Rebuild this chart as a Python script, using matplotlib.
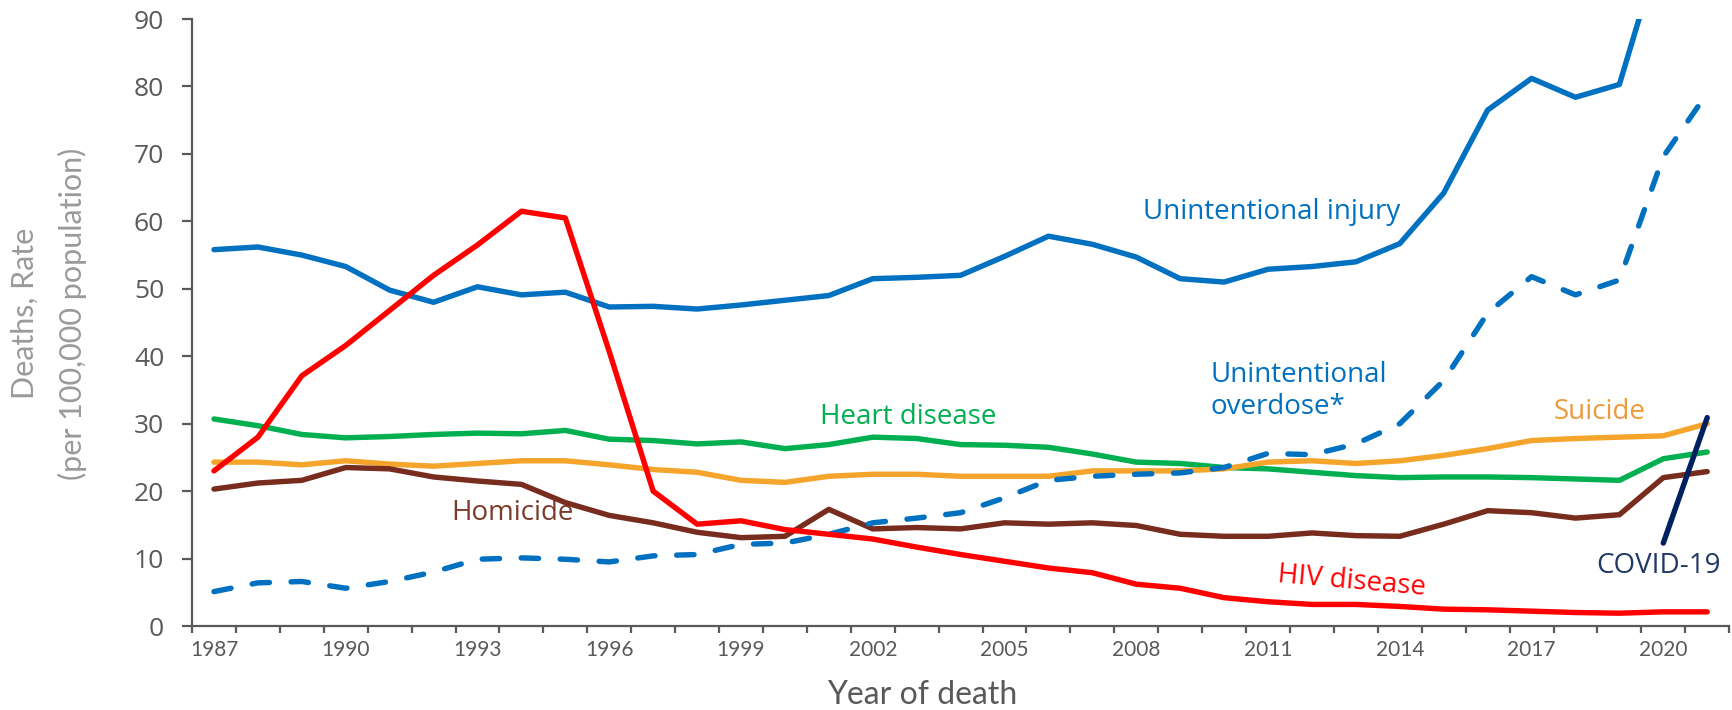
import matplotlib.pyplot as plt
import numpy as np

# data (deaths per 100,000)
years = np.arange(1987, 2022)

injury = [55.8, 56.2, 55.0, 53.3, 49.8, 48.0, 50.3, 49.1, 49.5, 47.3, 47.4, 47.0,
          47.6, 48.3, 49.0, 51.5, 51.7, 52.0, 54.8, 57.8, 56.6, 54.7, 51.5, 51.0,
          52.9, 53.3, 54.0, 56.7, 64.2, 76.5, 81.2, 78.4, 80.3, 102.0, 112.0]
overdose = [5.1, 6.4, 6.6, 5.6, 6.6, 8.0, 9.9, 10.1, 9.9, 9.5, 10.4, 10.6,
            12.1, 12.3, 13.6, 15.3, 16.0, 16.8, 19.0, 21.6, 22.2, 22.5, 22.7, 23.5,
            25.6, 25.4, 27.0, 30.0, 36.4, 46.4, 51.8, 49.1, 51.3, 69.6, 79.0]
heart = [30.7, 29.7, 28.4, 27.9, 28.1, 28.4, 28.6, 28.5, 29.0, 27.7, 27.5, 27.0,
         27.3, 26.3, 26.9, 28.0, 27.8, 26.9, 26.8, 26.5, 25.5, 24.3, 24.1, 23.5,
         23.3, 22.8, 22.3, 22.0, 22.1, 22.1, 22.0, 21.8, 21.6, 24.8, 25.8]
suicide = [24.3, 24.3, 23.9, 24.5, 24.0, 23.7, 24.1, 24.5, 24.5, 23.9, 23.2, 22.8,
           21.6, 21.3, 22.2, 22.5, 22.5, 22.2, 22.2, 22.2, 23.0, 23.0, 23.0, 23.3,
           24.3, 24.5, 24.1, 24.5, 25.3, 26.3, 27.5, 27.8, 28.0, 28.2, 30.0]
homicide = [20.3, 21.2, 21.6, 23.5, 23.3, 22.1, 21.5, 21.0, 18.3, 16.4, 15.3, 13.9,
            13.1, 13.3, 17.3, 14.4, 14.6, 14.4, 15.3, 15.1, 15.3, 14.9, 13.6, 13.3,
            13.3, 13.8, 13.4, 13.3, 15.1, 17.1, 16.8, 16.0, 16.5, 22.0, 22.9]
hiv = [23.0, 28.0, 37.1, 41.6, 46.8, 52.0, 56.5, 61.5, 60.5, 40.7, 20.0, 15.1,
       15.6, 14.3, 13.6, 12.9, 11.7, 10.6, 9.6, 8.6, 7.9, 6.2, 5.6, 4.2,
       3.6, 3.2, 3.2, 2.9, 2.5, 2.4, 2.2, 2.0, 1.9, 2.1, 2.1]
covid_years = [2020, 2021]
covid = [12.3, 30.9]

BLUE = '#0070C0'
GREEN = '#00B050'
ORANGE = '#F5A52B'
BROWN = '#772C1E'
RED = '#FF0000'
NAVY = '#002060'
GREY = '#595959'

fig = plt.figure(figsize=(17.33, 7.10), dpi=100)
ax = fig.add_axes([0.1108, 0.1183, 0.887, 0.8549])

lw = 3.9
kw = dict(lw=lw, solid_capstyle='round', solid_joinstyle='round')
ax.plot(years, heart, color=GREEN, **kw)
ax.plot(years, suicide, color=ORANGE, **kw)
ax.plot(years, homicide, color=BROWN, **kw)
ax.plot(years, overdose, color=BLUE, lw=lw, dashes=(3.2, 4.0),
        dash_capstyle='round', dash_joinstyle='round')
ax.plot(years, injury, color=BLUE, **kw)
ax.plot(years, hiv, color=RED, **kw)
ax.plot(covid_years, covid, color=NAVY, **kw)

ax.set_xlim(1986.5, 2021.5)
ax.set_ylim(0, 90)

for s in ['top', 'right']:
    ax.spines[s].set_visible(False)
for s in ['left', 'bottom']:
    ax.spines[s].set_color(GREY)
    ax.spines[s].set_linewidth(1.6)

ax.set_yticks(np.arange(0, 91, 10))
ax.tick_params(axis='y', length=7, width=1.6, color=GREY, labelcolor=GREY,
               labelsize=19, pad=13)
ax.set_xticks(np.arange(1987, 2022, 3))
ax.set_xticks(np.arange(1986.5, 2022, 1), minor=True)
ax.tick_params(axis='x', which='major', length=0, labelcolor=GREY, labelsize=15, pad=10)
ax.tick_params(axis='x', which='minor', length=5, width=1.6, color=GREY)
for t in ax.get_xticklabels():
    t.set_family('Lato')
for t in ax.get_yticklabels():
    t.set_family('Open Sans')

fig.text(922 / 1733, 0.009, 'Year of death', ha='center', va='baseline',
         fontsize=23, color=GREY, family='Lato')
fig.text(25 / 1733, 0.558, 'Deaths, Rate', rotation=90, ha='center', va='center',
         fontsize=22, color='#9A9A9A', family='Lato')
fig.text(72 / 1733, 0.558, '(per 100,000 population)', rotation=90, ha='center',
         va='center', fontsize=22, color='#9A9A9A', family='Lato')

lab = dict(fontsize=20, family='Open Sans', va='center')
ax.text(2008.15, 61.4, 'Unintentional injury', color=BLUE, ha='left', **lab)
ax.text(2009.7, 34.85, 'Unintentional\noverdose*', color=BLUE, ha='left',
        linespacing=1.2, **lab)
ax.text(2000.8, 31.0, 'Heart disease', color=GREEN, ha='left', **lab)
ax.text(2017.5, 31.8, 'Suicide', color='#EE9A3A', ha='left', **lab)
ax.text(1992.4, 16.8, 'Homicide', color='#7B3B2A', ha='left', **lab)
ax.text(2012.9, 6.6, 'HIV disease', color=RED, ha='center', rotation=-5, **lab)
ax.text(2019.9, 8.9, 'COVID-19', color='#1F3864', ha='center', **lab)

fig.savefig('out.png', dpi=100)
